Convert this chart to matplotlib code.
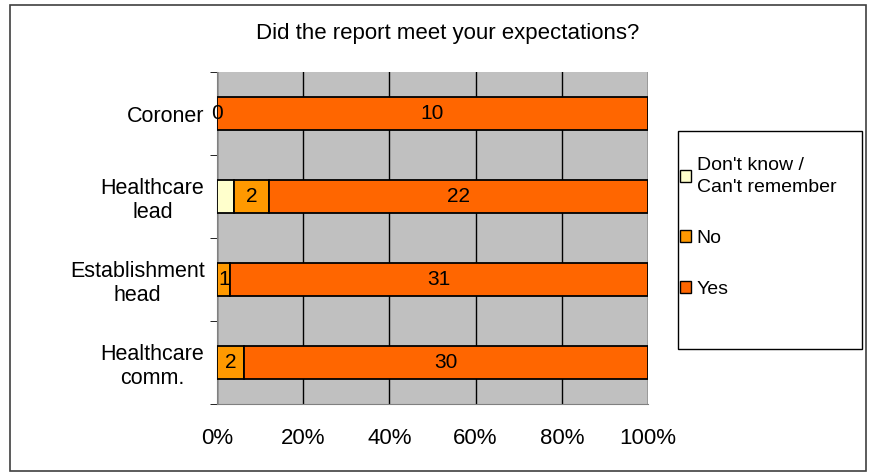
import matplotlib.pyplot as plt
import matplotlib.patches as mpatches
import numpy as np

plt.rcParams['font.family'] = ['Liberation Sans', 'DejaVu Sans']

categories = ['Coroner', 'Healthcare\nlead', 'Establishment\nhead', 'Healthcare\ncomm.']
dont_know = [0, 1, 0, 0]
no = [0, 2, 1, 2]
yes = [10, 22, 31, 30]
series_names = ["Don't know /\nCan't remember", 'No', 'Yes']
colors = ['#FFFFCC', '#FF9900', '#FF6600']

fig = plt.figure(figsize=(8.74, 4.76), dpi=100)
# outer chart frame
fig.patches.append(mpatches.Rectangle((10 / 874, 5 / 476), 856 / 874, 466 / 476,
                                      transform=fig.transFigure, fill=False,
                                      edgecolor='#404040', lw=1.2))

ax = fig.add_axes([217 / 874, 1 - 404 / 476, 431 / 874, 332 / 476])
ax.set_facecolor('#C0C0C0')

data = np.array([dont_know, no, yes], dtype=float)
totals = data.sum(axis=0)
pct = data / totals * 100
y = np.arange(len(categories))
left = np.zeros(len(categories))
for i in range(3):
    ax.barh(y, pct[i], left=left, height=0.39, color=colors[i],
            edgecolor='black', lw=1.3, zorder=3)
    if i > 0:
        for j in range(len(categories)):
            ax.text(left[j] + pct[i][j] / 2, y[j], '%d' % data[i][j],
                    ha='center', va='center', fontsize=15, zorder=4)
    left += pct[i]

ax.set_xlim(0, 100)
ax.set_ylim(len(categories) - 0.5, -0.5)
ax.set_xticks(np.arange(0, 101, 20))
ax.set_xticklabels(['%d%%' % v for v in range(0, 101, 20)], fontsize=16)
ax.xaxis.grid(True, color='black', lw=1, zorder=1)
ax.tick_params(axis='x', length=0, pad=17)
ax.set_yticks(y)
ax.set_yticklabels(categories, fontsize=15.5, linespacing=1.2,
                   multialignment='center')
ax.tick_params(axis='y', length=0, pad=9)
ax.set_yticks(np.arange(-0.5, len(categories)), minor=True)
ax.tick_params(axis='y', which='minor', length=5, direction='out')
for s in ['top', 'right']:
    ax.spines[s].set_visible(False)
ax.spines['left'].set_color('#808080')
ax.spines['bottom'].set_color('#808080')

fig.text(448 / 874, 1 - 33 / 476, 'Did the report meet your expectations?',
         ha='center', va='center', fontsize=16)

# legend box drawn as its own rectangle, entries without frame
fig.patches.append(mpatches.Rectangle((678 / 874, 1 - 349 / 476), 184 / 874, 218 / 476,
                                      transform=fig.transFigure, facecolor='white',
                                      edgecolor='black', lw=1))
handles = [mpatches.Patch(facecolor=c, edgecolor='black', lw=1) for c in colors]
leg = fig.legend(handles, series_names, loc='upper left',
                 bbox_to_anchor=(680 / 874, 1 - 157 / 476), fontsize=14,
                 frameon=False, handlelength=0.55, handleheight=0.55,
                 handletextpad=0.3, labelspacing=1.75, borderpad=0,
                 borderaxespad=0)
for t in leg.get_texts():
    t.set_linespacing(1.35)

fig.savefig('out.png', dpi=100)
